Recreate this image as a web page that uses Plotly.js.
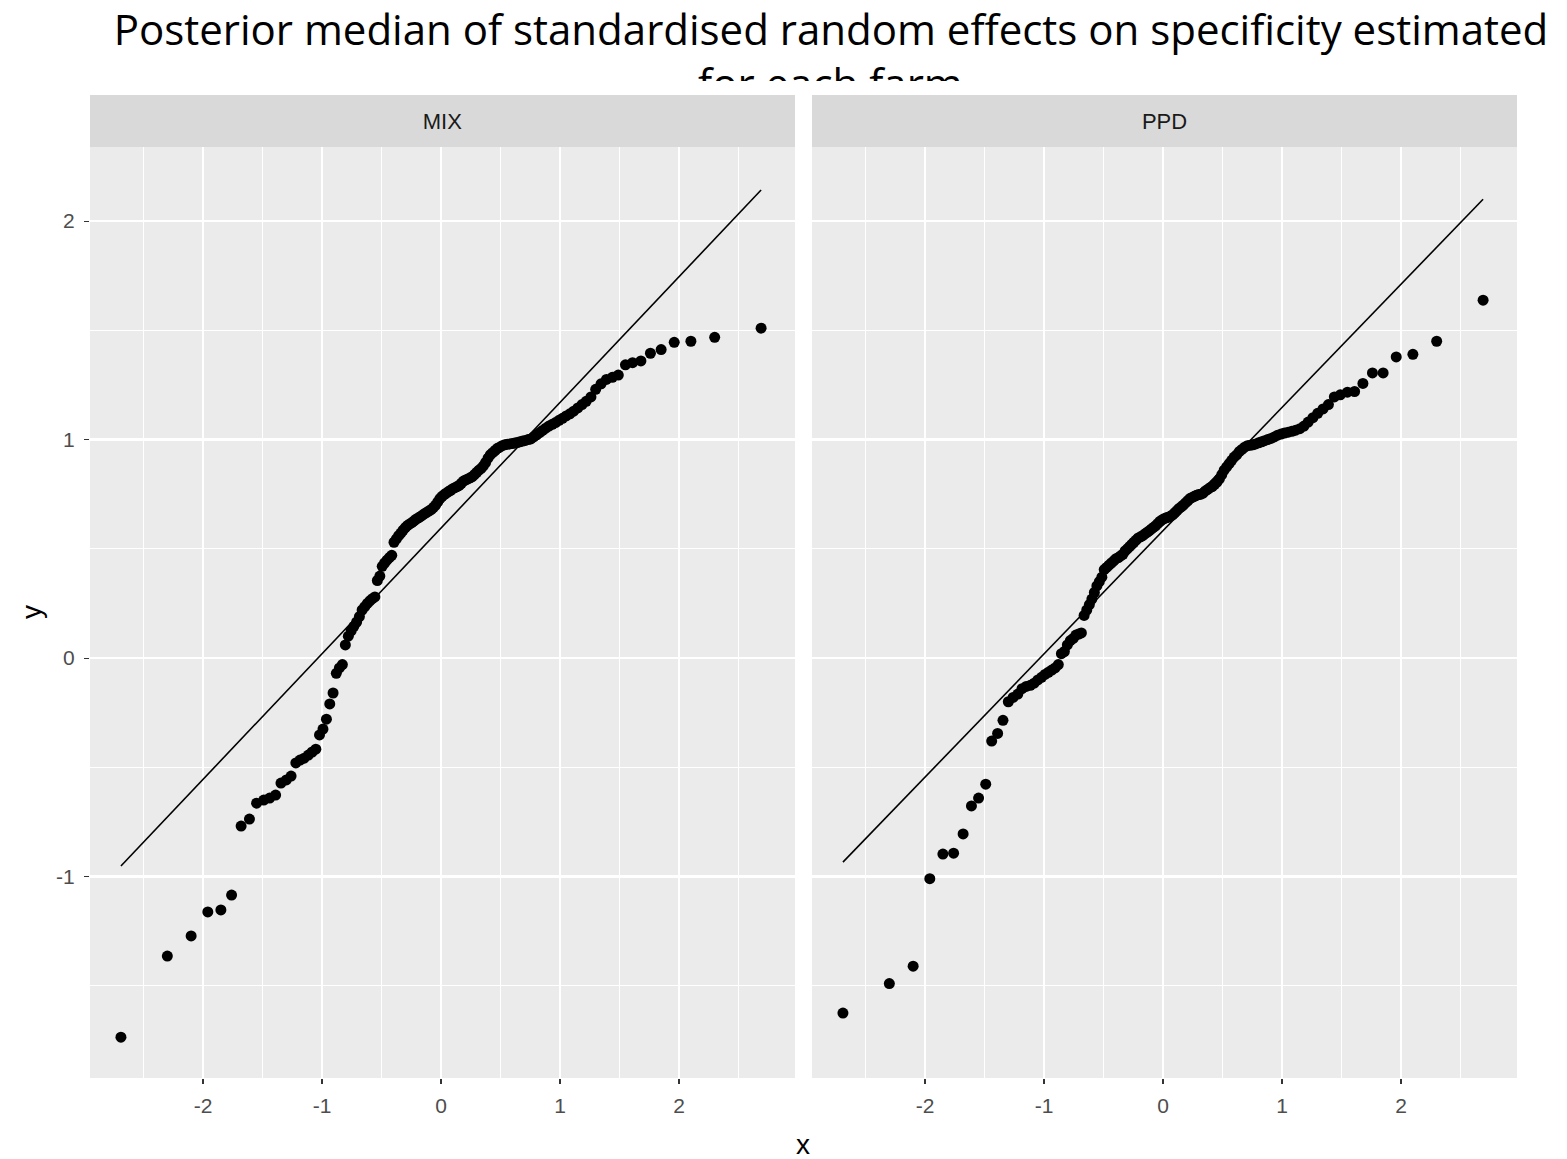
<!DOCTYPE html>
<html>
<head>
<meta charset="utf-8">
<script src="https://cdn.plot.ly/plotly-3.0.1.min.js"></script>
<style>
  html, body { margin: 0; padding: 0; background: #fff; }
  #chart { width: 1567px; height: 1159px; }
</style>
</head>
<body>
<div id="chart"></div>
<script>
// Theoretical normal quantiles (x) for the 140 farms
const theoretical = [
 -2.69, -2.30, -2.10, -1.96, -1.85, -1.76, -1.68, -1.61, -1.55, -1.49,
 -1.44, -1.39, -1.345, -1.30, -1.26, -1.22, -1.185, -1.15, -1.115, -1.083,
 -1.052, -1.021, -0.992, -0.963, -0.935, -0.907, -0.880, -0.854, -0.829, -0.804,
 -0.779, -0.755, -0.732, -0.709, -0.686, -0.663, -0.641, -0.619, -0.598, -0.577,
 -0.556, -0.535, -0.514, -0.494, -0.474, -0.454, -0.434, -0.414, -0.395, -0.375,
 -0.356, -0.337, -0.319, -0.300, -0.281, -0.263, -0.245, -0.226, -0.208, -0.189,
 -0.171, -0.153, -0.135, -0.117, -0.099, -0.081, -0.063, -0.045, -0.027, -0.009,
 0.009, 0.027, 0.045, 0.063, 0.081, 0.099, 0.117, 0.135, 0.153, 0.171,
 0.189, 0.208, 0.226, 0.245, 0.263, 0.281, 0.300, 0.319, 0.337, 0.356,
 0.375, 0.395, 0.414, 0.434, 0.454, 0.474, 0.494, 0.514, 0.535, 0.556,
 0.577, 0.598, 0.619, 0.641, 0.663, 0.686, 0.709, 0.732, 0.755, 0.779,
 0.804, 0.829, 0.854, 0.880, 0.907, 0.935, 0.963, 0.992, 1.021, 1.052,
 1.083, 1.115, 1.15, 1.185, 1.22, 1.26, 1.30, 1.345, 1.39, 1.44,
 1.49, 1.55, 1.61, 1.68, 1.76, 1.85, 1.96, 2.10, 2.30, 2.69
];

// Sample (posterior median of standardised random effects), MIX
const mixValues = [
 -1.735, -1.364, -1.272, -1.162, -1.153, -1.085, -0.769, -0.737, -0.664, -0.650,
 -0.641, -0.627, -0.572, -0.558, -0.540, -0.480, -0.467, -0.458, -0.444, -0.430,
 -0.417, -0.352, -0.325, -0.280, -0.210, -0.160, -0.070, -0.045, -0.030, 0.060,
 0.100, 0.125, 0.145, 0.165, 0.190, 0.220, 0.235, 0.250, 0.262, 0.272,
 0.280, 0.355, 0.375, 0.420, 0.435, 0.448, 0.460, 0.470, 0.530, 0.545,
 0.560, 0.572, 0.585, 0.597, 0.607, 0.614, 0.620, 0.628, 0.636, 0.642,
 0.648, 0.655, 0.662, 0.668, 0.674, 0.680, 0.690, 0.700, 0.715, 0.730,
 0.740, 0.748, 0.755, 0.762, 0.768, 0.775, 0.780, 0.785, 0.790, 0.800,
 0.810, 0.815, 0.820, 0.825, 0.830, 0.840, 0.850, 0.860, 0.868, 0.880,
 0.895, 0.915, 0.930, 0.940, 0.950, 0.960, 0.965, 0.972, 0.976, 0.978,
 0.980, 0.982, 0.984, 0.986, 0.990, 0.993, 0.996, 1.000, 1.003, 1.012,
 1.022, 1.032, 1.042, 1.052, 1.062, 1.070, 1.078, 1.088, 1.097, 1.108,
 1.118, 1.130, 1.145, 1.160, 1.175, 1.195, 1.230, 1.255, 1.275, 1.285,
 1.295, 1.342, 1.352, 1.360, 1.395, 1.412, 1.445, 1.450, 1.468, 1.510
];

// Sample, PPD
const ppdValues = [
 -1.625, -1.490, -1.410, -1.010, -0.897, -0.893, -0.805, -0.677, -0.641, -0.577,
 -0.380, -0.345, -0.285, -0.200, -0.180, -0.165, -0.140, -0.130, -0.125, -0.115,
 -0.100, -0.088, -0.075, -0.065, -0.055, -0.045, -0.030, 0.020, 0.030, 0.060,
 0.080, 0.090, 0.105, 0.110, 0.115, 0.195, 0.220, 0.245, 0.270, 0.300,
 0.330, 0.350, 0.370, 0.405, 0.415, 0.425, 0.435, 0.445, 0.455, 0.460,
 0.468, 0.475, 0.490, 0.500, 0.510, 0.520, 0.530, 0.540, 0.550, 0.555,
 0.560, 0.568, 0.575, 0.582, 0.590, 0.598, 0.605, 0.615, 0.625, 0.632,
 0.638, 0.642, 0.645, 0.650, 0.655, 0.665, 0.675, 0.685, 0.692, 0.700,
 0.710, 0.720, 0.730, 0.735, 0.740, 0.745, 0.748, 0.750, 0.755, 0.765,
 0.772, 0.780, 0.785, 0.795, 0.805, 0.820, 0.840, 0.860, 0.875, 0.890,
 0.905, 0.920, 0.930, 0.945, 0.955, 0.965, 0.972, 0.974, 0.976, 0.980,
 0.985, 0.990, 0.995, 1.000, 1.005, 1.012, 1.020, 1.025, 1.030, 1.034,
 1.038, 1.043, 1.050, 1.062, 1.080, 1.100, 1.120, 1.140, 1.160, 1.195,
 1.205, 1.217, 1.220, 1.257, 1.305, 1.305, 1.378, 1.390, 1.450, 1.638
];

// Reference (qq) line end points
const lineX = [-2.69, 2.69];
const mixLineY = [-0.952, 2.142];
const ppdLineY = [-0.934, 2.100];

// Facets, titles and tick labels
const facets = ["MIX", "PPD"];
const xTickVals = [-2, -1, 0, 1, 2];
const xTickText = ["-2", "-1", "0", "1", "2"];
const yTickVals = [-1, 0, 1, 2];
const yTickText = ["-1", "0", "1", "2"];
const titleLine1 = "Posterior median of standardised random effects on specificity estimated";
const titleLine2 = "for each farm";

const W = 1567, H = 1159;
const px = v => v / W;
const py = v => (H - v) / H;

const mark = {color: "#000000", size: 11};
const data = [
  {x: theoretical, y: mixValues, type: "scatter", mode: "markers", marker: mark, xaxis: "x", yaxis: "y"},
  {x: lineX, y: mixLineY, type: "scatter", mode: "lines", line: {color: "#000000", width: 1.6}, xaxis: "x", yaxis: "y"},
  {x: theoretical, y: ppdValues, type: "scatter", mode: "markers", marker: mark, xaxis: "x2", yaxis: "y2"},
  {x: lineX, y: ppdLineY, type: "scatter", mode: "lines", line: {color: "#000000", width: 1.6}, xaxis: "x2", yaxis: "y2"}
];

const tickFont = {family: "Liberation Sans, Arial, sans-serif", size: 21, color: "#4D4D4D"};
const xRange = [-2.95, 2.975];
const yRange = [-1.922, 2.339];

function xAxis(domain, anchor) {
  return {
    domain: domain, range: xRange, autorange: false, zeroline: false, anchor: anchor,
    showgrid: true, gridcolor: "#FFFFFF", gridwidth: 2.2,
    tickvals: xTickVals, ticktext: xTickText,
    ticks: "outside", ticklen: 5, tickwidth: 1.1, tickcolor: "#333333",
    tickfont: tickFont, ticklabelstandoff: 4,
    minor: {dtick: 0.5, tick0: 0, showgrid: true, gridcolor: "#FFFFFF", gridwidth: 1.1, ticks: ""},
    showline: false, automargin: false, fixedrange: true
  };
}
function yAxis(showLabels, anchor) {
  return {
    domain: [py(1078), py(147)], range: yRange, autorange: false, zeroline: false,
    anchor: anchor,
    showgrid: true, gridcolor: "#FFFFFF", gridwidth: 2.2,
    tickvals: yTickVals, ticktext: yTickText, showticklabels: showLabels,
    ticks: showLabels ? "outside" : "", ticklen: 5, tickwidth: 1.1, tickcolor: "#333333",
    tickfont: tickFont, ticklabelstandoff: 5,
    minor: {dtick: 0.5, tick0: 0, showgrid: true, gridcolor: "#FFFFFF", gridwidth: 1.1, ticks: ""},
    showline: false, automargin: false, fixedrange: true
  };
}

const titleFont = {family: "Open Sans, sans-serif", size: 42, color: "#000000"};
const stripFont = {family: "Liberation Sans, Arial, sans-serif", size: 22, color: "#1A1A1A"};
const axisTitleFont = {family: "Liberation Sans, Arial, sans-serif", size: 28, color: "#000000"};
const panels = [[90, 795], [812, 1517]];

const annotations = [];
// second title line (its lower half is hidden, as in the reference)
annotations.push({
  text: titleLine2, xref: "paper", yref: "paper", x: px(831), y: py(83),
  xanchor: "center", yanchor: "middle", showarrow: false, font: titleFont
});
// white band that hides the lower half of the second title line
annotations.push({
  text: " ", xref: "paper", yref: "paper", x: px(783), y: py(98),
  xanchor: "center", yanchor: "middle", showarrow: false,
  width: W, height: 34, bgcolor: "#FFFFFF", borderpad: 0, borderwidth: 0,
  font: {size: 4, color: "#FFFFFF"}
});
// facet strips
facets.forEach((f, i) => annotations.push({
  text: f, xref: "paper", yref: "paper",
  x: px((panels[i][0] + panels[i][1]) / 2), y: py(121),
  xanchor: "center", yanchor: "middle", showarrow: false, font: stripFont,
  width: panels[i][1] - panels[i][0], height: 52, bgcolor: "#D9D9D9",
  borderpad: 0, borderwidth: 0
}));
annotations.push({
  text: "x", xref: "paper", yref: "paper", x: px(803), y: py(1144),
  xanchor: "center", yanchor: "middle", showarrow: false, font: axisTitleFont
});
annotations.push({
  text: "y", xref: "paper", yref: "paper", x: px(31), y: py(612),
  xanchor: "center", yanchor: "middle", showarrow: false, textangle: -90, font: axisTitleFont
});

const layout = {
  width: W, height: H,
  margin: {l: 0, r: 0, t: 0, b: 0, pad: 0},
  paper_bgcolor: "#FFFFFF", plot_bgcolor: "#EBEBEB",
  showlegend: false,
  title: {
    text: titleLine1, x: px(831), xanchor: "center", xref: "container",
    y: 1 - 16 / H, yanchor: "top", yref: "container", font: titleFont
  },
  xaxis: xAxis([px(90), px(795)], "y"),
  xaxis2: xAxis([px(812), px(1517)], "y2"),
  yaxis: yAxis(true, "x"),
  yaxis2: yAxis(false, "x2"),
  annotations: annotations
};

Plotly.newPlot("chart", data, layout, {displayModeBar: false, staticPlot: true});
</script>
</body>
</html>
